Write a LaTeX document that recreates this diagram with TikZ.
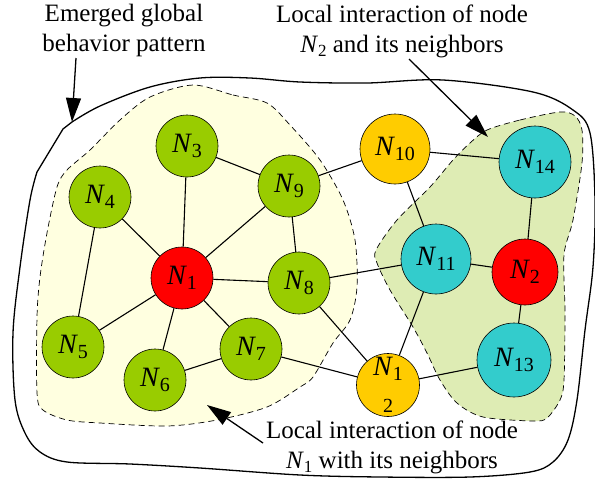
\documentclass[tikz,border=0pt]{standalone}
\usepackage{fontspec}
\setmainfont{Liberation Serif}
\usetikzlibrary{arrows.meta}

\definecolor{leafgreen}{RGB}{153,204,0}
\definecolor{hubred}{RGB}{255,0,0}
\definecolor{amber}{RGB}{255,204,0}
\definecolor{aqua}{RGB}{51,204,204}
\definecolor{paleyellow}{RGB}{255,255,224}
\definecolor{palegreen}{RGB}{222,236,180}

% agent label: italic N with a lowered index
\newcommand\Nlab[1]{\textit{N}\raisebox{-5pt}{\fontsize{20}{20}\selectfont #1}}
\newcommand\Ntext[1]{\textit{N}\raisebox{-4pt}{\fontsize{17}{17}\selectfont #1}}

\pgfdeclarelayer{zones}
\pgfdeclarelayer{links}
\pgfsetlayers{zones,links,main}

\begin{document}
\begin{tikzpicture}[x=1pt,y=-1pt,
  agent/.style={circle,draw,line width=0.6pt,inner sep=0pt,align=center,
    font=\fontsize{28}{32}\selectfont},
  leaf/.style={agent,fill=leafgreen,minimum size=62pt},
  hub/.style={agent,fill=hubred},
  relay/.style={agent,fill=amber},
  peer/.style={agent,fill=aqua},
  link/.style={line width=1.1pt},
  zone/.style={dash pattern=on 6pt off 4pt,line width=0.7pt},
  note/.style={align=center,font=\fontsize{25}{30}\selectfont},
  pointer/.style={line width=1.3pt,-{Triangle[length=24pt,width=15pt]}}]

\useasboundingbox (0,0) rectangle (595,480);

\begin{pgfonlayer}{zones}
% whole system
\draw[line width=1.3pt] plot[smooth,tension=0.55] coordinates {(72,122) (100,106) (150,87)
  (200,78) (250,78) (300,82) (367,83) (443,80) (533,92) (573,110) (590,133) (595,200)
  (593,267) (585,330) (577,400) (568,440) (553,462) (530,472) (470,477) (380,477)
  (300,475) (200,468) (130,464) (67,462) (40,452) (25,433) (15,400) (13,333) (20,267)
  (30,200) (37,172)} -- (63,129) -- cycle;

% neighbourhood of N1
\filldraw[zone,fill=paleyellow] plot[smooth cycle,tension=0.5] coordinates {(193,85) (233,95)
  (267,103) (290,125) (320,160) (343,200) (355,240) (357,287) (350,320) (333,343) (313,377)
  (300,387) (267,407) (217,420) (167,426) (100,423) (67,420) (43,410) (37,393) (37,317)
  (40,277) (47,233) (57,187) (67,170) (90,150) (120,120) (150,97)};

% neighbourhood of N2
\filldraw[zone,fill=palegreen] plot[smooth cycle,tension=0.5] coordinates {(487,130) (520,120)
  (560,112) (575,116) (582,130) (582,163) (573,220) (564,255) (565,313) (564,380) (560,400)
  (547,418) (533,421) (483,417) (457,403) (440,380) (427,353) (413,327) (390,290) (377,263)
  (376,250) (397,220) (430,187) (453,160) (470,143)};
\end{pgfonlayer}

\node[hub,minimum size=62pt] (N1) at (182,278) {\Nlab{1}};
\node[hub,minimum size=66pt] (N2) at (525,272) {\Nlab{2}};
\node[leaf] (N3) at (187,146) {\Nlab{3}};
\node[leaf] (N4) at (100,197) {\Nlab{4}};
\node[leaf] (N5) at (73,347) {\Nlab{5}};
\node[leaf] (N6) at (155,380) {\Nlab{6}};
\node[leaf] (N7) at (251,349) {\Nlab{7}};
\node[leaf] (N8) at (299,283) {\Nlab{8}};
\node[leaf] (N9) at (289,186) {\Nlab{9}};
\node[relay,minimum size=70pt] (N10) at (395,149) {\Nlab{10}};
\node[peer,minimum size=70pt] (N11) at (436,259) {\Nlab{11}};
\node[relay,minimum size=63pt] (N12) at (388,385) {\Nlab{1}\\\raisebox{-5pt}{\fontsize{20}{20}\selectfont 2}};
\node[peer,minimum size=74pt] (N13) at (514,360) {\Nlab{13}};
\node[peer,minimum size=72pt] (N14) at (535,162) {\Nlab{14}};

\begin{pgfonlayer}{links}
\foreach \a/\b in {N3/N1,N3/N9,N4/N1,N4/N5,N9/N1,N9/N8,N9/N10,N1/N8,N1/N5,N1/N6,N1/N7,
  N6/N7,N7/N12,N8/N11,N8/N12,N10/N11,N10/N14,N11/N2,N11/N12,N14/N2,N2/N13,N13/N12}
  \draw[link] (\a) -- (\b);
\end{pgfonlayer}

\node[note] (global) at (124,30) {Emerged global\\behavior pattern};
\node[note] (localtwo) at (402,31) {Local interaction of node\\\Ntext{2} and its neighbors};
\node[note] (localone) at (392,447) {Local interaction of node\\\Ntext{1} with its neighbors};

\coordinate (globaltip) at (72,122);
\coordinate (twotip) at (488,137);
\coordinate (onetip) at (207,405);
\draw[pointer] (76,58) -- (globaltip);
\draw[pointer] (409,59) -- (twotip);
\draw[pointer] (263,443) -- (onetip);

\end{tikzpicture}
\end{document}
